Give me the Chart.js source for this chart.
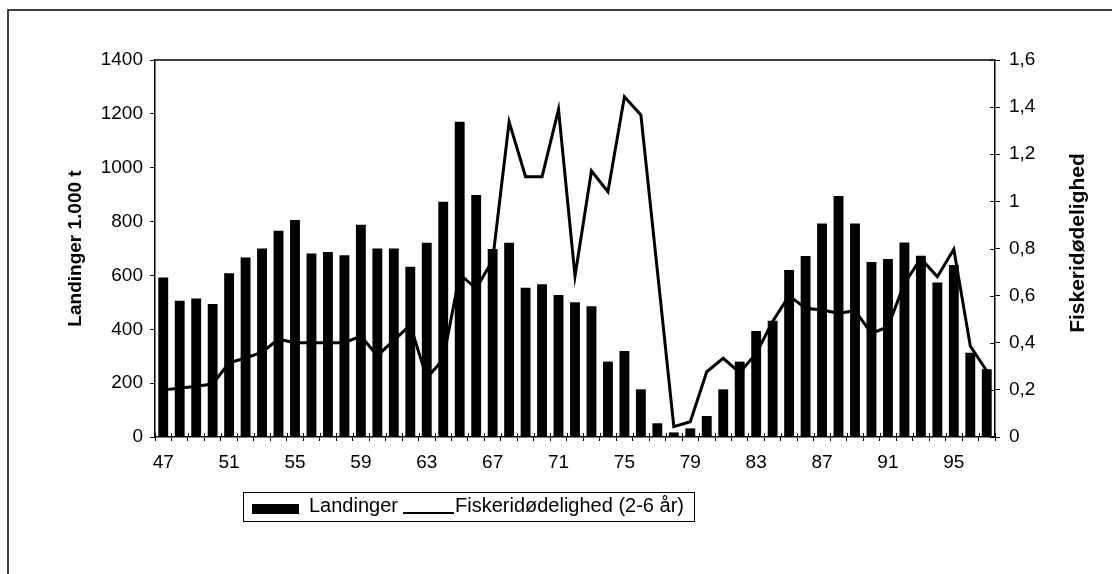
<!DOCTYPE html>
<html>
<head>
<meta charset="utf-8">
<title>Landinger og fiskeridødelighed</title>
<script src="https://cdn.jsdelivr.net/npm/chart.js@4.4.1/dist/chart.umd.min.js"></script>
<style>
  html, body { margin: 0; padding: 0; background: #fff; }
  #wrap { position: relative; width: 1112px; height: 574px; }
  #legend {
    position: absolute; left: 243px; top: 492px; width: 450px; height: 28px;
    border: 1px solid #000; box-sizing: content-box;
    font-family: "Liberation Sans", Arial, sans-serif; font-size: 20px; color: #000;
  }
  #legend .box { position: absolute; left: 8px; top: 11px; width: 47px; height: 10px; background: #000; }
  #legend .t1 { position: absolute; left: 65px; top: 1px; }
  #legend .ln { position: absolute; left: 159px; top: 19px; width: 51px; height: 0; border-top: 2px solid #000; }
  #legend .t2 { position: absolute; left: 211px; top: 1px; }
</style>
</head>
<body>
<div id="wrap">
  <canvas id="chart" width="1112" height="574"></canvas>
  <div id="legend">
    <span class="box"></span><span class="t1">Landinger</span>
    <span class="ln"></span><span class="t2">Fiskeridødelighed (2-6 år)</span>
  </div>
</div>
<script>
// data
const years = ['47','48','49','50','51','52','53','54','55','56','57','58','59','60','61','62','63',
  '64','65','66','67','68','69','70','71','72','73','74','75','76','77','78','79','80','81','82',
  '83','84','85','86','87','88','89','90','91','92','93','94','95','96','97'];

// Landinger, 1.000 t
const landinger = [592, 506, 514, 494, 608, 667, 700, 766, 806, 681, 687, 675, 788, 700, 700, 632, 721,
  874, 1171, 899, 698, 721, 554, 567, 527, 500, 486, 280, 319, 177, 51, 17, 32, 78, 177, 280,
  394, 432, 620, 672, 793, 895, 793, 650, 661, 722, 673, 574, 639, 313, 252];

// Fiskeridødelighed (2-6 år)
const doedelighed = [0.20, 0.207, 0.215, 0.225, 0.315, 0.335, 0.36, 0.415, 0.40, 0.40, 0.40, 0.40, 0.428, 0.345, 0.41, 0.475, 0.25,
  0.33, 0.69, 0.63, 0.75, 1.338, 1.105, 1.105, 1.39, 0.683, 1.129, 1.041, 1.444, 1.367, 0.706, 0.044, 0.065, 0.277, 0.334, 0.273,
  0.355, 0.49, 0.60, 0.546, 0.539, 0.525, 0.536, 0.44, 0.468, 0.652, 0.758, 0.68, 0.797, 0.386, 0.28];

const xTickLabels = ['47','51','55','59','63','67','71','75','79','83','87','91','95'];
const leftTicks = [0, 200, 400, 600, 800, 1000, 1200, 1400];
const leftTickLabels = ['0', '200', '400', '600', '800', '1000', '1200', '1400'];
const rightTicks = [0, 0.2, 0.4, 0.6, 0.8, 1.0, 1.2, 1.4, 1.6];
const rightTickLabels = ['0', '0,2', '0,4', '0,6', '0,8', '1', '1,2', '1,4', '1,6'];

const fontFamily = '"Liberation Sans", Arial, sans-serif';

// plot box, inward tick halves, right title and the page frame
const extras = {
  id: 'extras',
  afterDraw(chart) {
    const ctx = chart.ctx;
    const a = chart.chartArea;
    const x = chart.scales.x;
    const y2 = chart.scales.y2;
    ctx.save();
    ctx.strokeStyle = '#000';
    ctx.lineWidth = 1.5;
    ctx.beginPath();
    ctx.moveTo(a.left, a.top);
    ctx.lineTo(a.right, a.top);
    ctx.stroke();

    ctx.lineWidth = 1;
    ctx.beginPath();
    for (let i = 0; i <= years.length; i++) {
      const px = Math.round(x.getPixelForValue(i - 0.5)) + 0.5;
      ctx.moveTo(px, a.bottom);
      ctx.lineTo(px, a.bottom - 4);
    }
    rightTicks.forEach(v => {
      const py = Math.round(y2.getPixelForValue(v)) + 0.5;
      ctx.moveTo(a.right, py);
      ctx.lineTo(a.right - 5, py);
    });
    ctx.stroke();

    ctx.fillStyle = '#000';
    ctx.font = 'bold 21px ' + fontFamily;
    ctx.textAlign = 'center';
    ctx.textBaseline = 'middle';
    ctx.translate(1078, 243);
    ctx.rotate(-Math.PI / 2);
    ctx.fillText('Fiskeridødelighed', 0, 0);
    ctx.restore();

    ctx.save();
    ctx.strokeStyle = '#000';
    ctx.lineWidth = 1.5;
    ctx.beginPath();
    ctx.moveTo(8, 574);
    ctx.lineTo(8, 10);
    ctx.lineTo(1112, 10);
    ctx.stroke();
    ctx.restore();
  }
};

new Chart(document.getElementById('chart').getContext('2d'), {
  data: {
    labels: years,
    datasets: [{
      type: 'line',
      label: 'Fiskeridødelighed (2-6 år)',
      data: doedelighed,
      yAxisID: 'y2',
      borderColor: '#000',
      borderWidth: 3,
      pointRadius: 0,
      tension: 0,
      order: 0
    }, {
      type: 'bar',
      label: 'Landinger',
      data: landinger,
      yAxisID: 'y',
      backgroundColor: '#000',
      barPercentage: 0.6,
      categoryPercentage: 1.0,
      order: 1
    }]
  },
  options: {
    responsive: false,
    animation: false,
    devicePixelRatio: 1,
    layout: { padding: { top: 60, left: 0, right: 0, bottom: 0 } },
    plugins: {
      legend: { display: false },
      tooltip: { enabled: false }
    },
    scales: {
      x: {
        type: 'category',
        offset: true,
        grid: { offset: true, drawOnChartArea: false, drawTicks: true, tickLength: 4, color: '#000' },
        border: { display: true, color: '#000', width: 1.5 },
        ticks: {
          autoSkip: false, maxRotation: 0, padding: 10, color: '#000',
          font: { family: fontFamily, size: 19 },
          callback: (v, i) => xTickLabels.includes(years[i]) ? years[i] : ''
        },
        afterFit: s => { s.height = 137; }
      },
      y: {
        position: 'left',
        min: 0, max: 1400,
        afterBuildTicks: s => { s.ticks = leftTicks.map(v => ({ value: v })); },
        grid: { drawOnChartArea: false, drawTicks: true, tickLength: 5, color: '#000' },
        border: { display: true, color: '#000', width: 1.5 },
        ticks: {
          padding: 7, color: '#000', font: { family: fontFamily, size: 19 },
          callback: (v, i) => leftTickLabels[i]
        },
        title: {
          display: true, text: 'Landinger 1.000 t', color: '#000',
          font: { family: fontFamily, size: 19, weight: 'bold' },
          padding: { top: 64, bottom: 0 }
        },
        afterFit: s => { s.width = 155; }
      },
      y2: {
        position: 'right',
        min: 0, max: 1.6,
        afterBuildTicks: s => { s.ticks = rightTicks.map(v => ({ value: v })); },
        grid: { drawOnChartArea: false, drawTicks: true, tickLength: 5, color: '#000' },
        border: { display: true, color: '#000', width: 1.5 },
        ticks: {
          padding: 9, color: '#000', font: { family: fontFamily, size: 19 },
          callback: (v, i) => rightTickLabels[i]
        },
        afterFit: s => { s.width = 117; }
      }
    }
  },
  plugins: [extras]
});
</script>
</body>
</html>
